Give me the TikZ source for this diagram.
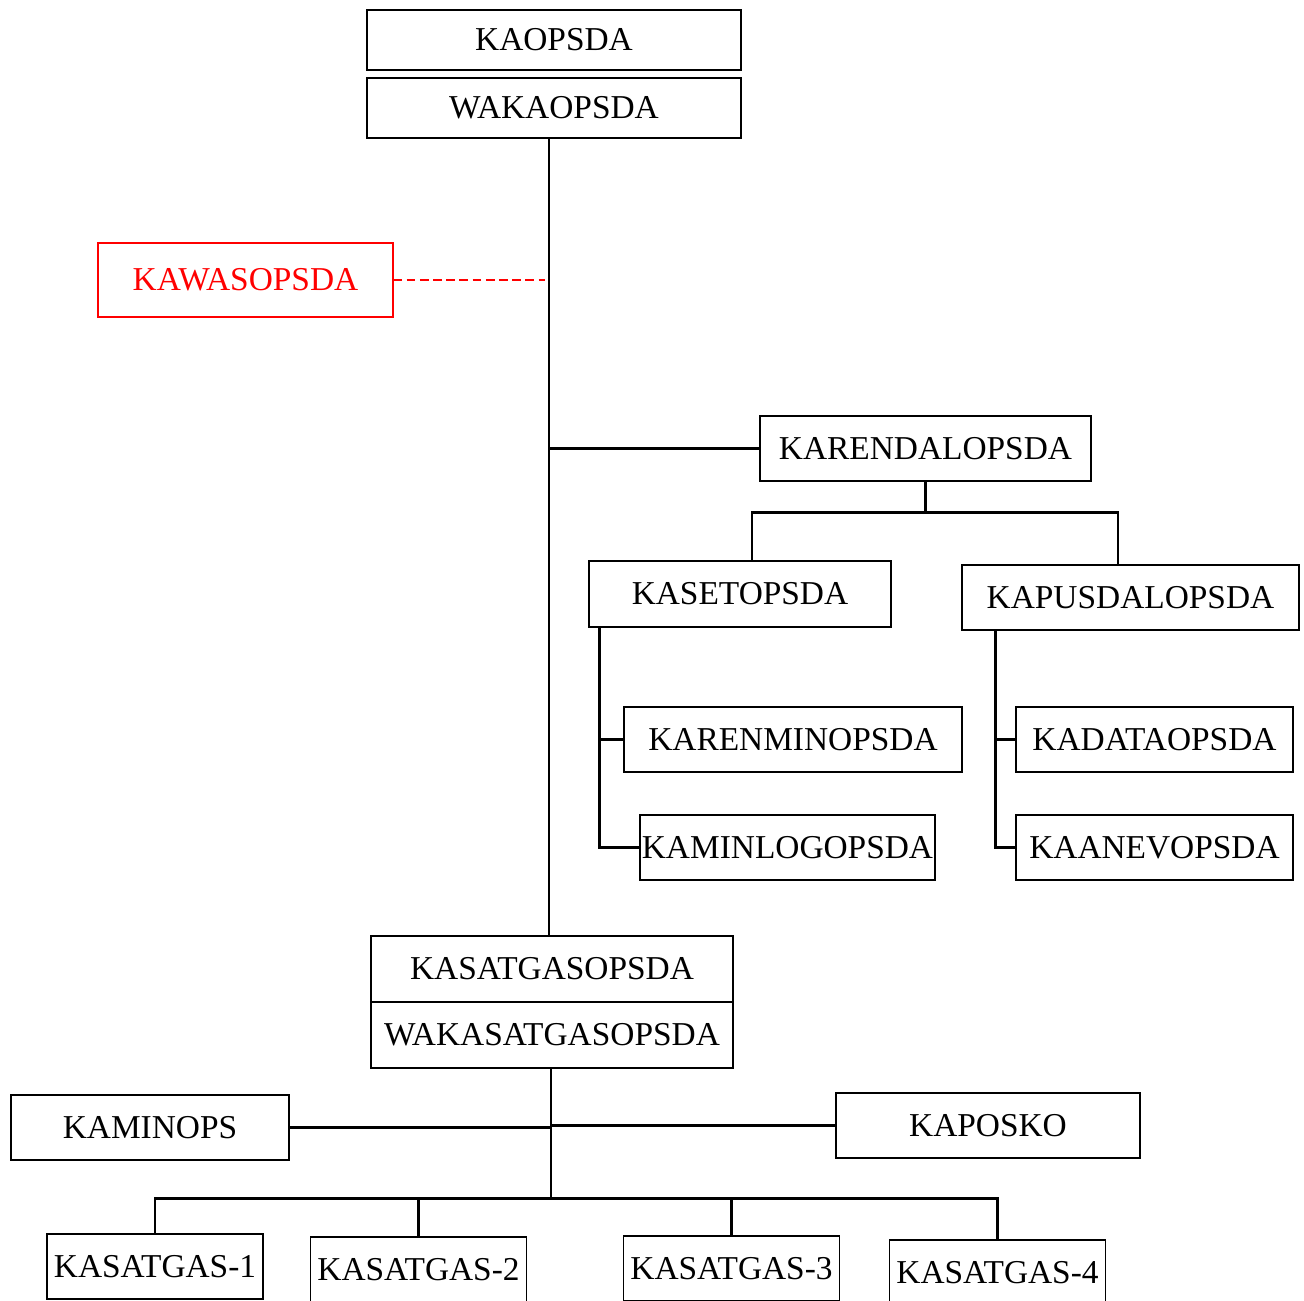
\documentclass[tikz,border=0pt]{standalone}
\usepackage{fontspec}
\setmainfont{Liberation Serif}
\usetikzlibrary{calc}
\tikzstyle{box}=[rectangle,fill=white,minimum height=1.3cm,inner sep=0pt, line width=0.6pt, draw=black, anchor = center, font=\fontsize{19pt}{22pt}\selectfont]
\tikzstyle{redbox}=[box, draw=red, text=red]
\tikzstyle{conn}=[line width=1.25pt, draw=black]
\tikzstyle{dashconn}=[line width=0.9pt, draw=red, dash pattern=on 5pt off 2.5pt]

\begin{document}
\begin{tikzpicture}
	\useasboundingbox (0,0) rectangle (26.08,-26.02);
	\coordinate (trunk) at (10.98,0);
	\coordinate (trunkb) at (11.02,0);

	\node[box, minimum width=7.48cm, minimum height=1.2cm](kaop) at (11.08,-0.80){KAOPSDA};
	\node[box, minimum width=7.48cm, minimum height=1.2cm](wakaop) at (11.08,-2.16){WAKAOPSDA};
	\node[redbox, minimum width=5.90cm, minimum height=1.48cm](kawas) at (4.91,-5.60){KAWASOPSDA};
	\node[box, minimum width=6.62cm](karendal) at (18.51,-8.97){KARENDALOPSDA};
	\node[box, minimum width=6.04cm, minimum height=1.32cm](kaset) at (14.80,-11.88){KASETOPSDA};
	\node[box, minimum width=6.74cm](kapusdal) at (22.61,-11.95){KAPUSDALOPSDA};
	\node[box, minimum width=6.76cm](karenmin) at (15.86,-14.79){KARENMINOPSDA};
	\node[box, minimum width=5.90cm](kaminlogo) at (15.75,-16.95){KAMINLOGOPSDA};
	\node[box, minimum width=5.54cm](kadata) at (23.09,-14.79){KADATAOPSDA};
	\node[box, minimum width=5.54cm](kaanev) at (23.09,-16.95){KAANEVOPSDA};

	\node[box, minimum width=7.24cm, minimum height=1.32cm](kasatgas) at (11.04,-19.38){KASATGASOPSDA};
	\node[box, minimum width=7.24cm, minimum height=1.32cm](wakasatgas) at (11.04,-20.70){WAKASATGASOPSDA};
	\node[box, minimum width=5.56cm](kaminops) at (3.00,-22.55){KAMINOPS};
	\node[box, minimum width=6.08cm](kaposko) at (19.76,-22.51){KAPOSKO};
	\node[box, minimum width=4.32cm](kasat1) at (3.10,-25.33){KASATGAS-1};
	\node[box, minimum width=4.32cm](kasat2) at (8.37,-25.39){KASATGAS-2};
	\node[box, minimum width=4.32cm](kasat3) at (14.63,-25.37){KASATGAS-3};
	\node[box, minimum width=4.32cm](kasat4) at (19.95,-25.45){KASATGAS-4};

	% upper part
	\draw[conn] (wakaop.south -| trunk) -- (kasatgas.north -| trunk);
	\draw[dashconn] (kawas.east) -- ([xshift=-0.08cm]kawas.east -| trunk);
	\draw[conn] (karendal.west) -- (karendal.west -| trunk);
	\draw[conn] (karendal.south) -- ++(0,-0.62) coordinate (bus1);
	\draw[conn] ([xshift=0.24cm]kaset.north) |- (bus1) -| ([xshift=-0.25cm]kapusdal.north);
	\coordinate (setbar) at ([xshift=0.22cm]kaset.south west);
	\draw[conn] (setbar) |- (kaminlogo.west);
	\draw[conn] (karenmin.west) -- (karenmin.west -| setbar);
	\coordinate (pusbar) at ([xshift=0.68cm]kapusdal.south west);
	\draw[conn] (pusbar) |- (kaanev.west);
	\draw[conn] (kadata.west) -- (kadata.west -| pusbar);

	% lower part
	\draw[conn] (wakasatgas.south -| trunkb) -- ++(0,-2.6) coordinate (bus2);
	\draw[conn] (kaminops.east) -- (kaminops.east -| trunkb);
	\draw[conn] (kaposko.west) -- (kaposko.west -| trunkb);
	\draw[conn] (kasat1.north) |- (bus2) -| (kasat4.north);
	\draw[conn] (kasat2.north) -- (kasat2.north |- bus2);
	\draw[conn] (kasat3.north) -- (kasat3.north |- bus2);

\end{tikzpicture}
\end{document}
